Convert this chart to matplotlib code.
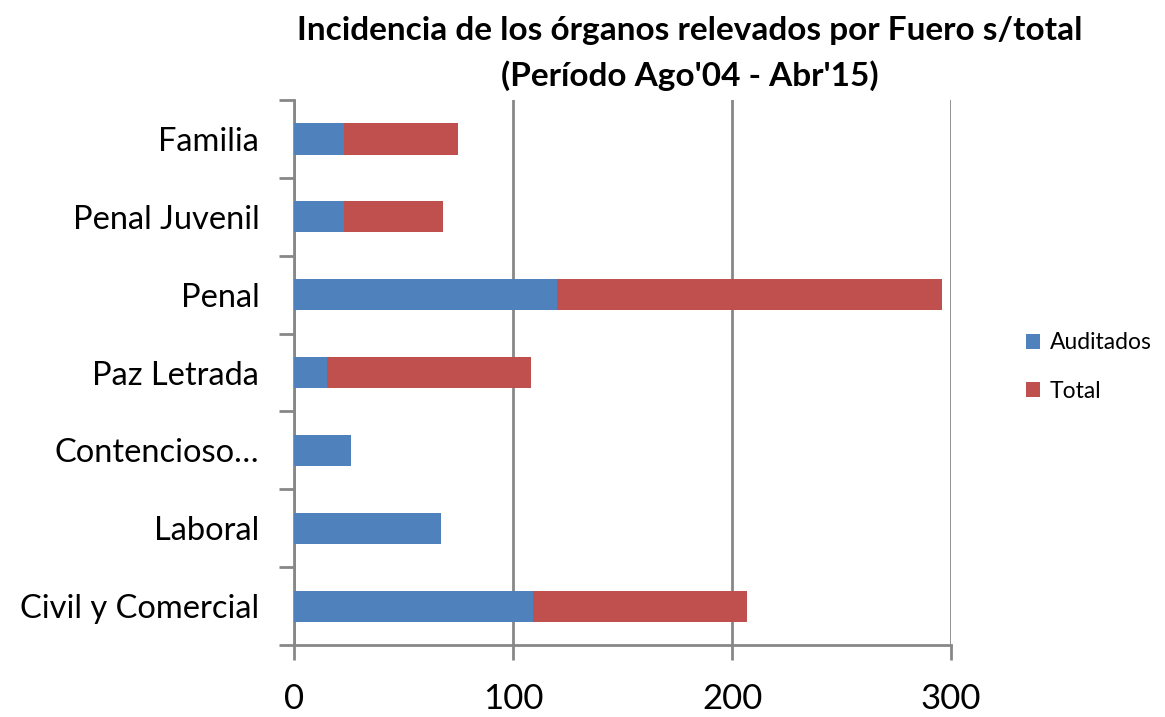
import matplotlib.pyplot as plt
import numpy as np

plt.rcParams['font.family'] = ['Lato', 'DejaVu Sans']

categorias = ["Civil y Comercial", "Laboral", "Contencioso…", "Paz Letrada",
              "Penal", "Penal Juvenil", "Familia"]
auditados = [109, 67, 26, 15, 120, 23, 23]
total = [98, 0, 0, 93, 176, 45, 52]
xticks = [0, 100, 200, 300]

azul = "#4F81BD"
rojo = "#C0504D"
gris = "#878787"

fig = plt.figure(figsize=(11.65, 7.17), dpi=100)
ax = fig.add_axes([0.2524, 0.1004, 0.5640, 0.7601])

y = np.arange(len(categorias))
ax.barh(y, auditados, height=0.4, color=azul, label="Auditados", zorder=3)
ax.barh(y, total, left=auditados, height=0.4, color=rojo, label="Total", zorder=3)

ax.set_xlim(0, 300)
ax.set_ylim(-0.5, len(categorias) - 0.5)
ax.set_xticks(xticks)
ax.set_xticklabels([str(v) for v in xticks], fontsize=25)
ax.set_yticks(y)
ax.set_yticklabels(categorias, fontsize=23.5)
ax.set_yticks(np.arange(-0.5, len(categorias), 1), minor=True)

ax.tick_params(axis="y", which="major", length=0, pad=25)
ax.tick_params(axis="y", which="minor", length=11, width=2, color=gris, direction="out")
ax.tick_params(axis="x", length=11, width=2, color=gris, direction="out", pad=16)

ax.grid(axis="x", color=gris, linewidth=2, zorder=0)
for s in ["top", "right"]:
    ax.spines[s].set_visible(False)
for s in ["left", "bottom"]:
    ax.spines[s].set_color(gris)
    ax.spines[s].set_linewidth(2)

fig.text(0.592, 0.958, "Incidencia de los órganos relevados por Fuero s/total",
         ha="center", va="center", fontsize=24, fontweight="bold")
fig.text(0.592, 0.895, "(Período Ago'04 - Abr'15)",
         ha="center", va="center", fontsize=24, fontweight="bold")

leg = ax.legend(loc="center left", bbox_to_anchor=(1.1, 0.51), frameon=False,
                fontsize=16.5, handlelength=0.6, handleheight=0.6,
                labelspacing=1.2, handletextpad=0.45, borderaxespad=0)

fig.savefig("out.png", dpi=100)
